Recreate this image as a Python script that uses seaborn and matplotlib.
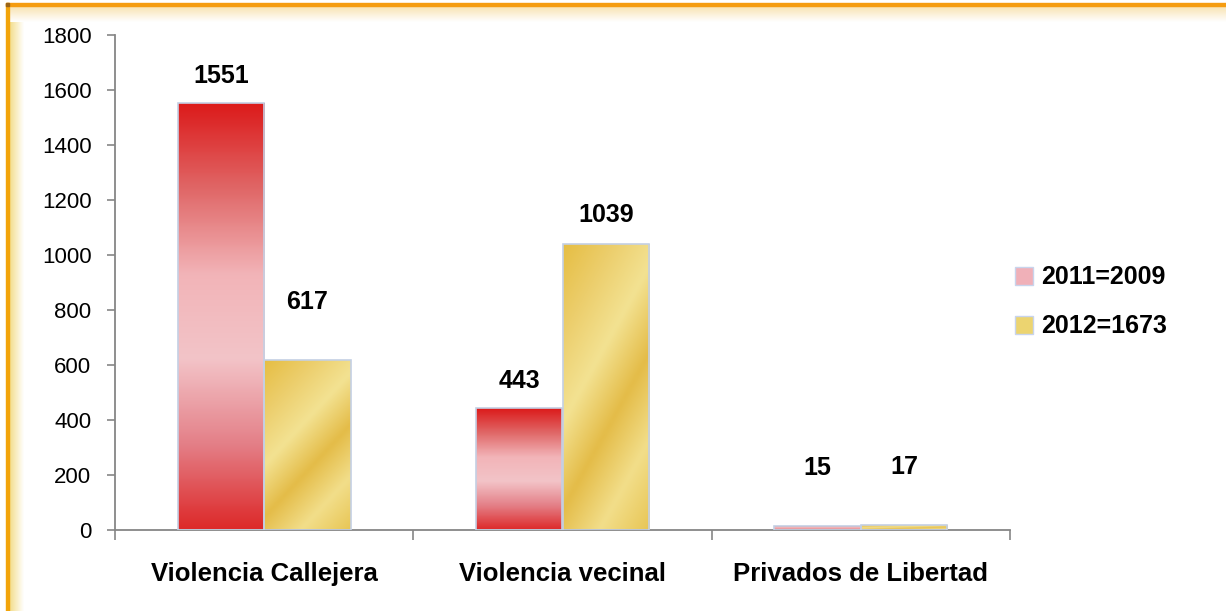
import numpy as np
import pandas as pd
import matplotlib
matplotlib.use("Agg")
import matplotlib.pyplot as plt
import seaborn as sns
from matplotlib.colors import LinearSegmentedColormap
from matplotlib.patches import Patch, Rectangle

# data
categories = ["Violencia Callejera", "Violencia vecinal", "Privados de Libertad"]
series_names = ["2011=2009", "2012=1673"]
values_2011 = [1551, 443, 15]
values_2012 = [617, 1039, 17]
# label lift above each bar (pixels), the original places some labels higher
label_lift_2011 = [27, 27, 58]
label_lift_2012 = [58, 29, 58]

df = pd.DataFrame({
    "cat": categories * 2,
    "serie": [series_names[0]] * 3 + [series_names[1]] * 3,
    "val": values_2011 + values_2012,
})

sns.set_theme(style="white")
plt.rcParams["font.family"] = ["Liberation Sans", "DejaVu Sans"]
plt.rcParams["text.color"] = "black"

W, H = 1226, 611
fig = plt.figure(figsize=(W / 100, H / 100), dpi=100)

# ---- frame decoration (orange top line + left strip with fades)
bg = fig.add_axes([0, 0, 1, 1], zorder=-5)
bg.set_xlim(0, W)
bg.set_ylim(H, 0)
bg.axis("off")


def grad_rect(axx, x0, x1, y0, y1, c0, c1, horizontal=True, z=0):
    cm = LinearSegmentedColormap.from_list("g", [c0, c1])
    g = np.linspace(0, 1, 64)
    img = g[None, :] if horizontal else g[:, None]
    axx.imshow(img, cmap=cm, extent=(x0, x1, y1, y0), aspect="auto",
               interpolation="bicubic", zorder=z)


grad_rect(bg, 9, 24, 3, H, "#f3dc86", "#ffffff", horizontal=True, z=1)
grad_rect(bg, 6, W, 6, 22, "#f8e2b0", "#ffffff", horizontal=False, z=2)
bg.add_patch(Rectangle((6, 3), 3, H, color="#f2a40a", zorder=3))
bg.add_patch(Rectangle((6, 3), W, 3, color="#f59c10", zorder=3))
bg.add_patch(Rectangle((6, 3), 3, 3, color="#9a6418", zorder=4))

# ---- main chart
ax = fig.add_axes([115 / W, 1 - 530 / H, (1010 - 115) / W, (530 - 35) / H])
sns.barplot(data=df, x="cat", y="val", hue="serie", order=categories,
            hue_order=series_names, width=0.58, ax=ax, legend=False,
            errorbar=None, saturation=1, palette=["#e04040", "#e8c850"])

ax.set_xlim(-0.5, 2.5)
ax.set_ylim(0, 1800)
ax.set_yticks(np.arange(0, 1801, 200))
ax.set_xlabel("")
ax.set_ylabel("")
sns.despine(ax=ax, top=True, right=True)
for s in ["left", "bottom"]:
    ax.spines[s].set_color("#868686")
    ax.spines[s].set_linewidth(1.3)

ax.tick_params(axis="y", which="major", left=True, length=6, width=1.2,
               color="#868686", pad=11, labelsize=16, labelcolor="black")
ax.tick_params(axis="x", which="major", bottom=False, length=0, pad=23,
               labelsize=18.5, labelcolor="black")
ax.set_xticks([-0.5, 0.5, 1.5, 2.5], minor=True)
ax.tick_params(axis="x", which="minor", bottom=True, length=7, width=1.2,
               color="#868686", direction="out")
for t in ax.get_xticklabels():
    t.set_fontweight("bold")

# gradient fills on the bars
red_cm = LinearSegmentedColormap.from_list(
    "red", ["#dc1c1c", "#e06868", "#f2b4b8", "#f3c4c8", "#e48088", "#dd2a2a"])
gold_cm = LinearSegmentedColormap.from_list(
    "gold", ["#e6be44", "#ecce6c", "#f3e292", "#e4bc48", "#f2de8a", "#e8c656"])
fills = [red_cm, gold_cm]

for k, cont in enumerate(ax.containers):
    for bar in cont:
        x0, y0 = bar.get_x(), bar.get_y()
        w, h = bar.get_width(), bar.get_height()
        yy = np.linspace(0, 1, 120)[:, None]
        xx = np.linspace(0, 1, 40)[None, :]
        if k == 0:
            img = yy + 0.0 * xx
        else:
            img = np.clip(0.65 * yy + 0.35 * xx, 0, 1)
        im = ax.imshow(img, cmap=fills[k], extent=(x0, x0 + w, y0, y0 + h),
                       aspect="auto", origin="upper", zorder=2,
                       interpolation="bicubic")
        im.set_clip_path(bar)
        bar.set_facecolor("none")
        bar.set_edgecolor("#c4d0e4")
        bar.set_linewidth(1.2)
        bar.set_zorder(3)

ax.set_xlim(-0.5, 2.5)
ax.set_ylim(0, 1800)

# value labels
lifts = [label_lift_2011, label_lift_2012]
for k, cont in enumerate(ax.containers):
    for i, bar in enumerate(cont):
        ax.annotate(f"{int(bar.get_height())}",
                    (bar.get_x() + bar.get_width() / 2, bar.get_height()),
                    xytext=(0, lifts[k][i] * 0.72), textcoords="offset points",
                    ha="center", va="center", fontsize=18, fontweight="bold",
                    color="black")

# legend
handles = [Patch(facecolor="#f0b0b8", edgecolor="#c8d4ec", linewidth=1),
           Patch(facecolor="#ecd470", edgecolor="#c8d4ec", linewidth=1)]
leg = fig.legend(handles, series_names, loc="center left",
                 bbox_to_anchor=(992 / W, 1 - 302 / H), frameon=False,
                 handlelength=0.75, handleheight=0.75, handletextpad=0.3,
                 labelspacing=1.0, labelcolor="black",
                 prop={"size": 18, "weight": "bold"})

fig.savefig("out.png", dpi=100)
